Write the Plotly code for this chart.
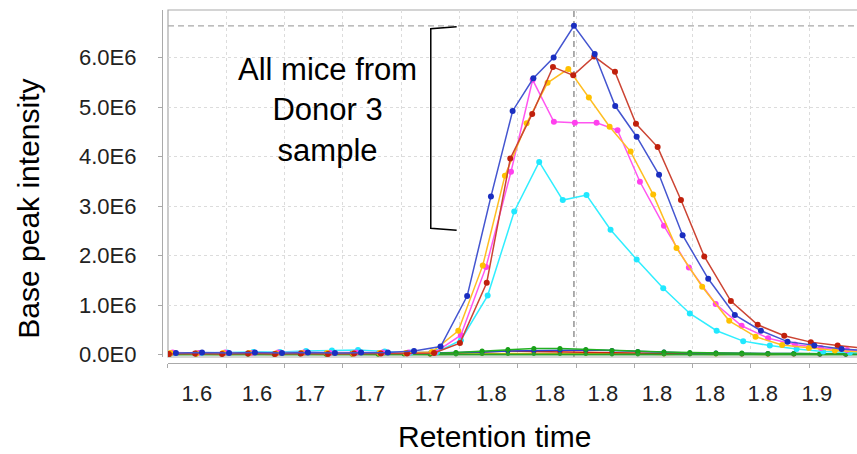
import numpy as np
import plotly.graph_objects as go

# ---------------- data (retention time in min, intensity in millions) ----------------
# Donor 3 mice (large peaks)
blue_t = [1.5934, 1.6046, 1.6162, 1.6273, 1.6389, 1.6500, 1.6616, 1.6728, 1.6843, 1.6955,
          1.7069, 1.7183, 1.7285, 1.7378, 1.7467, 1.7554, 1.7641, 1.7730, 1.7818, 1.7910,
          1.8006, 1.8107, 1.8217, 1.8331, 1.8443, 1.8557, 1.8672, 1.8789, 1.8902]
blue_v = [0.03, 0.04, 0.03, 0.04, 0.03, 0.04, 0.03, 0.04, 0.04, 0.07,
          0.16, 1.18, 3.19, 4.92, 5.58, 6.00, 6.64, 6.07, 5.02, 4.40,
          3.63, 2.41, 1.53, 0.80, 0.48, 0.26, 0.18, 0.11, 0.08]

red_t = [1.5904, 1.6016, 1.6132, 1.6243, 1.6359, 1.6470, 1.6586, 1.6698, 1.6813, 1.6925,
         1.7041, 1.7152, 1.7267, 1.7368, 1.7462, 1.7551, 1.7638, 1.7728, 1.7817, 1.7907,
         1.8000, 1.8100, 1.8200, 1.8314, 1.8429, 1.8543, 1.8657, 1.8772, 1.8885]
red_v = [0.01, 0.02, 0.01, 0.02, 0.01, 0.02, 0.01, 0.02, 0.02, 0.02,
         0.03, 0.23, 1.45, 3.96, 4.86, 5.81, 5.64, 6.02, 5.71, 4.66,
         4.19, 3.12, 1.98, 1.08, 0.60, 0.38, 0.25, 0.18, 0.13]

yellow_t = [1.5911, 1.6022, 1.6136, 1.6248, 1.6363, 1.6474, 1.6582, 1.6693, 1.6807, 1.6920,
            1.7032, 1.7145, 1.7250, 1.7345, 1.7438, 1.7528, 1.7617, 1.7705, 1.7794, 1.7884,
            1.7981, 1.8081, 1.8191, 1.8307, 1.8420, 1.8534, 1.8649, 1.8760, 1.8872]
yellow_v = [0.03, 0.02, 0.03, 0.03, 0.02, 0.03, 0.03, 0.02, 0.03, 0.03,
            0.05, 0.48, 1.80, 3.61, 4.67, 5.49, 5.77, 5.19, 4.60, 4.10,
            3.23, 2.15, 1.37, 0.68, 0.36, 0.19, 0.13, 0.08, 0.05]

magenta_t = [1.5920, 1.6031, 1.6145, 1.6257, 1.6372, 1.6483, 1.6594, 1.6706, 1.6820, 1.6932,
             1.7045, 1.7156, 1.7264, 1.7371, 1.7464, 1.7555, 1.7645, 1.7738, 1.7828, 1.7924,
             1.8027, 1.8134, 1.8249, 1.8360, 1.8474, 1.8589, 1.8700, 1.8812, 1.8923]
magenta_v = [0.04, 0.03, 0.04, 0.03, 0.04, 0.04, 0.03, 0.04, 0.04, 0.04,
             0.04, 0.39, 1.77, 3.69, 5.55, 4.70, 4.68, 4.68, 4.53, 3.49,
             2.60, 1.76, 1.02, 0.58, 0.33, 0.20, 0.13, 0.09, 0.07]

cyan_t = [1.5929, 1.6040, 1.6154, 1.6266, 1.6380, 1.6492, 1.6603, 1.6715, 1.6829, 1.6941,
          1.7054, 1.7156, 1.7271, 1.7385, 1.7492, 1.7593, 1.7695, 1.7798, 1.7910, 1.8024,
          1.8138, 1.8253, 1.8367, 1.8481, 1.8596, 1.8710, 1.8825, 1.8938]
cyan_v = [0.03, 0.03, 0.04, 0.05, 0.05, 0.07, 0.08, 0.09, 0.06, 0.04,
          0.05, 0.29, 1.19, 2.89, 3.89, 3.12, 3.22, 2.52, 1.92, 1.34,
          0.83, 0.48, 0.27, 0.18, 0.11, 0.06, 0.04, 0.03]

# other samples (near baseline)
other_t = [1.5909, 1.6020, 1.6132, 1.6243, 1.6355, 1.6466, 1.6578, 1.6689, 1.6801, 1.6912,
           1.7024, 1.7135, 1.7247, 1.7358, 1.7469, 1.7581, 1.7692, 1.7804, 1.7915, 1.8027,
           1.8138, 1.8250, 1.8361, 1.8473, 1.8584, 1.8696, 1.8807, 1.8919]
green_o_v = [0.01, 0.01, 0.02, 0.01, 0.01, 0.02, 0.01, 0.02, 0.01, 0.02,
             0.02, 0.04, 0.07, 0.10, 0.12, 0.12, 0.10, 0.08, 0.06, 0.05,
             0.04, 0.03, 0.03, 0.02, 0.02, 0.02, 0.01, 0.01]
blue_o_v = [0.02, 0.03, 0.02, 0.03, 0.02, 0.03, 0.02, 0.03, 0.03, 0.02,
            0.03, 0.03, 0.05, 0.07, 0.08, 0.09, 0.09, 0.08, 0.06, 0.05,
            0.03, 0.03, 0.02, 0.02, 0.02, 0.01, 0.01, 0.01]
red_o_v = [0.02, 0.01, 0.02, 0.02, 0.01, 0.02, 0.02, 0.01, 0.02, 0.02,
           0.01, 0.03, 0.05, 0.07, 0.06, 0.05, 0.04, 0.03, 0.03, 0.02,
           0.02, 0.02, 0.01, 0.01, 0.01, 0.01, 0.01, 0.01]
yellow_o_v = [0.00, 0.01, 0.00, 0.01, 0.00, 0.01, 0.00, 0.01, 0.00, 0.01,
              0.00, 0.01, 0.01, 0.02, 0.02, 0.02, 0.01, 0.01, 0.01, 0.00,
              0.01, 0.00, 0.01, 0.00, 0.01, 0.00, 0.01, 0.00]
green2_o_v = [0.00, 0.00, 0.00, 0.00, 0.00, 0.00, 0.00, 0.00, 0.00, 0.00,
              0.00, 0.00, 0.01, 0.01, 0.01, 0.01, 0.01, 0.00, 0.00, 0.00,
              0.00, 0.00, 0.00, 0.00, 0.00, 0.00, 0.00, 0.00]

# axes
x_grid_vals = [1.590, 1.615, 1.640, 1.665, 1.690, 1.715, 1.740, 1.765, 1.790, 1.815, 1.840, 1.865]
x_label_vals = [1.6024, 1.6282, 1.6509, 1.6766, 1.7024, 1.7287, 1.7538, 1.7765, 1.7997, 1.8224, 1.8451, 1.8683]
x_label_text = ["1.6", "1.6", "1.7", "1.7", "1.7", "1.8", "1.8", "1.8", "1.8", "1.8", "1.8", "1.9"]
y_tick_vals = [0, 1, 2, 3, 4, 5, 6]
y_tick_text = ["0.0E0", "1.0E6", "2.0E6", "3.0E6", "4.0E6", "5.0E6", "6.0E6"]
x_range = [1.59, 1.8855]
y_range = [-0.0505, 6.96]

# bracket around donor-3 peaks
bracket_t = [1.7138, 1.7027, 1.7027, 1.7138]
bracket_v = [6.62, 6.58, 2.55, 2.51]

SCALE = 1e6
FONT = "Liberation Sans, Arial, sans-serif"

fig = go.Figure()

def add(t, v, line_color, marker_color, size=6, width=1.5):
    fig.add_trace(go.Scatter(
        x=t, y=np.array(v) * SCALE, mode="lines+markers",
        line=dict(color=line_color, width=width),
        marker=dict(color=marker_color, size=size),
        hoverinfo="skip", showlegend=False))

add(other_t, yellow_o_v, "#ffc000", "#ffc000", 4, 1.5)
add(other_t, red_o_v, "#d02010", "#c81e0a", 5, 1.5)
add(other_t, blue_o_v, "#2a3fd0", "#1a2fc0", 5, 1.5)
add(other_t, green_o_v, "#22b022", "#18a018", 5, 1.5)
add(other_t, green2_o_v, "#2aa02a", "#2aa02a", 4, 2)

add(cyan_t, cyan_v, "#30eeff", "#20e8ff")
add(magenta_t, magenta_v, "#ff55f0", "#ff40ee")
add(yellow_t, yellow_v, "#ffbe22", "#ffc000")
add(red_t, red_v, "#cc4433", "#c0200c")
add(blue_t, blue_v, "#4455d0", "#1a2ec0")

# crosshair at the highest point
i_pk = int(np.argmax(blue_v))
pk_t, pk_v = blue_t[i_pk], blue_v[i_pk] * SCALE

shapes = [
    dict(type="rect", xref="x domain", yref="y domain", x0=0, x1=1.01, y0=0, y1=1,
         line=dict(color="#aaaaaa", width=1.2), layer="below"),
    dict(type="line", xref="x", yref="y domain", x0=pk_t, x1=pk_t, y0=0, y1=1,
         line=dict(color="#9a9a9a", width=1.6, dash="6px,4px"), layer="below"),
    dict(type="line", xref="x domain", yref="y", x0=0, x1=1, y0=pk_v, y1=pk_v,
         line=dict(color="#a8a8a8", width=1.4, dash="6px,4px"), layer="below"),
    dict(type="path", xref="x", yref="y",
         path="M {} {} L {} {} L {} {} L {} {}".format(
             bracket_t[0], bracket_v[0] * SCALE, bracket_t[1], bracket_v[1] * SCALE,
             bracket_t[2], bracket_v[2] * SCALE, bracket_t[3], bracket_v[3] * SCALE),
         line=dict(color="black", width=1.5)),
]

annotations = [
    dict(text="All mice from<br>Donor 3<br>sample", xref="x", yref="y",
         x=1.6586, y=4.94 * SCALE, showarrow=False, align="center",
         xanchor="center", yanchor="middle",
         font=dict(family=FONT, size=31, color="black")),
    dict(text="Retention time", xref="paper", yref="paper", x=0.479, y=-0.207,
         xanchor="center", yanchor="middle",
         showarrow=False, font=dict(family=FONT, size=30, color="black")),
    dict(text="Base peak intensity", xref="paper", yref="paper", x=-0.192, y=0.436,
         xanchor="center", yanchor="middle",
         textangle=-90, showarrow=False, font=dict(family=FONT, size=30, color="black")),
]

fig.update_layout(
    width=857, height=454,
    margin=dict(l=162, r=0, t=10, b=91),
    paper_bgcolor="white", plot_bgcolor="white",
    showlegend=False,
    shapes=shapes, annotations=annotations,
    xaxis=dict(
        range=x_range, domain=[0.00863, 1], anchor="free", position=0,
        tickmode="array", tickvals=x_label_vals, ticktext=x_label_text,
        ticks="", showgrid=False, zeroline=False,
        showline=True, linecolor="#aaaaaa", linewidth=1.2,
        ticklabelstandoff=10,
        tickfont=dict(family=FONT, size=22, color="#222222"),
        minor=dict(tickmode="array", tickvals=x_grid_vals, ticks="outside", ticklen=4,
                   tickcolor="#aaaaaa", showgrid=True, gridcolor="#dcdcdc",
                   griddash="3px,3px", gridwidth=1),
    ),
    yaxis=dict(
        range=[y_range[0] * SCALE, y_range[1] * SCALE], domain=[0.017, 1],
        anchor="free", position=0,
        tickmode="array", tickvals=[v * SCALE for v in y_tick_vals], ticktext=y_tick_text,
        ticks="outside", ticklen=4, tickcolor="#aaaaaa",
        showline=True, linecolor="#aaaaaa", linewidth=1.2,
        showgrid=True, gridcolor="#dcdcdc", griddash="3px,3px", zeroline=False,
        ticklabelstandoff=17,
        tickfont=dict(family=FONT, size=22, color="#222222"),
    ),
)

fig.write_html("out.html")
